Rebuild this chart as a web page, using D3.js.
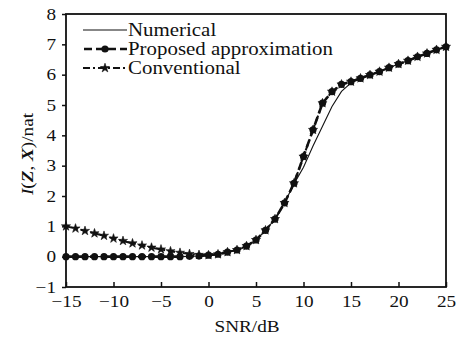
<!DOCTYPE html>
<html>
<head>
<meta charset="utf-8">
<script src="https://cdn.jsdelivr.net/npm/d3@7"></script>
<style>
  body { margin: 0; background: #fff; }
  text { font-family: "Liberation Serif", "Times New Roman", serif; fill: #111; }
</style>
</head>
<body>
<div id="chart"></div>
<script>
// SNR grid (dB)
var snr = d3.range(-15, 26, 1);

var numerical = [0, 0, 0, 0, 0, 0, 0, 0, 0, 0, 0, 0, 0, 0.01, 0.02, 0.05, 0.08, 0.15, 0.22, 0.35, 0.55,
  0.87, 1.24, 1.77, 2.4, 2.95, 3.65, 4.3, 4.95, 5.45, 5.73, 5.88, 5.99, 6.1, 6.23, 6.35, 6.46, 6.59, 6.7, 6.82, 6.92];
var proposed = [0, 0, 0, 0, 0, 0, 0, 0, 0, 0, 0, 0, 0, 0.01, 0.02, 0.05, 0.08, 0.15, 0.22, 0.35, 0.55,
  0.87, 1.24, 1.77, 2.42, 3.3, 4.18, 5.06, 5.44, 5.68, 5.77, 5.88, 5.99, 6.1, 6.23, 6.35, 6.46, 6.59, 6.7, 6.82, 6.92];
var conventional = [1.0, 0.93, 0.85, 0.77, 0.69, 0.6, 0.52, 0.44, 0.37, 0.3, 0.24, 0.18, 0.13, 0.09, 0.06, 0.05, 0.08, 0.15, 0.22, 0.35, 0.55,
  0.87, 1.24, 1.77, 2.42, 3.3, 4.18, 5.06, 5.44, 5.68, 5.77, 5.88, 5.99, 6.1, 6.23, 6.35, 6.46, 6.59, 6.7, 6.82, 6.92];

var xTicks = [-15, -10, -5, 0, 5, 10, 15, 20, 25];
var yTicks = [-1, 0, 1, 2, 3, 4, 5, 6, 7, 8];
var legendNames = ["Numerical", "Proposed approximation", "Conventional"];

var width = 467, height = 339;
var margin = { top: 14, right: 21, bottom: 52, left: 66 };
var textScale = 1.2;

var svg = d3.select("#chart").append("svg")
  .attr("width", width).attr("height", height);

svg.append("rect").attr("width", width).attr("height", height).attr("fill", "#fff");

var x = d3.scaleLinear().domain([-15, 25]).range([margin.left, width - margin.right]);
var y = d3.scaleLinear().domain([-1, 8]).range([height - margin.bottom, margin.top]);

// frame
svg.append("rect")
  .attr("x", x(-15)).attr("y", y(8))
  .attr("width", x(25) - x(-15)).attr("height", y(-1) - y(8))
  .attr("fill", "none").attr("stroke", "#111").attr("stroke-width", 1.8);

// x axis, ticks pointing inward
var gx = svg.append("g")
  .attr("transform", "translate(0," + y(-1) + ")")
  .call(d3.axisBottom(x).tickValues(xTicks).tickSizeInner(-5).tickSizeOuter(0).tickPadding(9)
    .tickFormat(function(d) { return d < 0 ? "\u2212" + Math.abs(d) : d; }));
gx.select(".domain").remove();
gx.selectAll("line").attr("stroke", "#111").attr("stroke-width", 1.5);
gx.selectAll("text").attr("font-size", 16).attr("font-family", "Liberation Serif")
  .attr("transform", "scale(" + textScale + ",1)");

// y axis, ticks pointing outward
var gy = svg.append("g")
  .attr("transform", "translate(" + x(-15) + ",0)")
  .call(d3.axisLeft(y).tickValues(yTicks).tickSize(4).tickPadding(6)
    .tickFormat(function(d) { return d < 0 ? "\u2212" + Math.abs(d) : d; }));
gy.select(".domain").remove();
gy.selectAll("line").attr("stroke", "#111").attr("stroke-width", 1.5);
gy.selectAll("text").attr("font-size", 16).attr("font-family", "Liberation Serif")
  .attr("x", -10 / textScale)
  .attr("transform", "scale(" + textScale + ",1)");

// axis titles
svg.append("g").attr("transform", "translate(247,332)")
  .append("text").attr("text-anchor", "middle").attr("font-size", 16)
  .attr("transform", "scale(" + textScale + ",1)").text("SNR/dB");

var yl = svg.append("g").attr("transform", "translate(33,154) rotate(-90)")
  .append("text").attr("text-anchor", "middle").attr("font-size", 16)
  .attr("transform", "scale(" + textScale + ",1)");
yl.append("tspan").attr("font-style", "italic").text("I");
yl.append("tspan").text("(");
yl.append("tspan").attr("font-style", "italic").attr("font-weight", "bold").text("Z");
yl.append("tspan").text(", ");
yl.append("tspan").attr("font-style", "italic").attr("font-weight", "bold").text("X");
yl.append("tspan").text(")/nat");

var line = d3.line().x(function(d) { return x(d[0]); }).y(function(d) { return y(d[1]); });
var star = d3.symbol().type(d3.symbolStar).size(26);

function pairs(vals) { return snr.map(function(s, i) { return [s, vals[i]]; }); }

// conventional: dash-dot with stars
svg.append("path").datum(pairs(conventional)).attr("d", line)
  .attr("fill", "none").attr("stroke", "#111").attr("stroke-width", 2)
  .attr("stroke-dasharray", "7,3,2,3");
svg.append("g").selectAll("path").data(pairs(conventional)).enter().append("path")
  .attr("d", star).attr("transform", function(d) { return "translate(" + x(d[0]) + "," + y(d[1]) + ")"; })
  .attr("fill", "#111").attr("stroke", "#111").attr("stroke-width", 0.6);

// proposed: thick dashed with filled circles
svg.append("path").datum(pairs(proposed)).attr("d", line)
  .attr("fill", "none").attr("stroke", "#111").attr("stroke-width", 2.6)
  .attr("stroke-dasharray", "8,4");
svg.append("g").selectAll("circle").data(pairs(proposed)).enter().append("circle")
  .attr("cx", function(d) { return x(d[0]); }).attr("cy", function(d) { return y(d[1]); })
  .attr("r", 3.6).attr("fill", "#111");

// numerical: thin solid
svg.append("path").datum(pairs(numerical)).attr("d", line)
  .attr("fill", "none").attr("stroke", "#111").attr("stroke-width", 1.1);

// legend
var lx0 = 83, lx1 = 127, ly0 = 30, ldy = 19;
var leg = svg.append("g");
legendNames.forEach(function(name, i) {
  var yy = ly0 + i * ldy;
  var seg = leg.append("line").attr("x1", lx0).attr("x2", lx1).attr("y1", yy).attr("y2", yy)
    .attr("stroke", "#111");
  if (i === 0) seg.attr("stroke-width", 1.1);
  if (i === 1) {
    seg.attr("stroke-width", 2.6).attr("stroke-dasharray", "8,4").attr("stroke-dashoffset", -1);
    leg.append("circle").attr("cx", (lx0 + lx1) / 2).attr("cy", yy).attr("r", 3.6).attr("fill", "#111");
  }
  if (i === 2) {
    seg.attr("stroke-width", 2).attr("stroke-dasharray", "7,3,2,3");
    leg.append("path").attr("d", star).attr("transform", "translate(" + (lx0 + lx1) / 2 + "," + yy + ")")
      .attr("fill", "#111").attr("stroke", "#111").attr("stroke-width", 0.6);
  }
  leg.append("g").attr("transform", "translate(" + (lx1 + 1) + "," + (yy + 6) + ")")
    .append("text").attr("font-size", 19).attr("transform", "scale(1.1,1)").text(name);
});
</script>
</body>
</html>
